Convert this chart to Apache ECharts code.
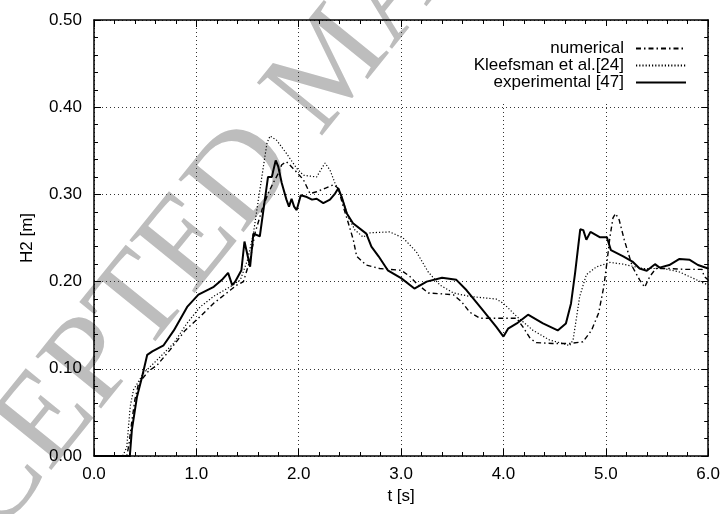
<!DOCTYPE html>
<html>
<head>
<meta charset="utf-8">
<script src="https://cdn.jsdelivr.net/npm/echarts@6/dist/echarts.min.js"></script>
<style>
  html, body { margin: 0; padding: 0; background: #fff; }
  #chart { width: 723px; height: 514px; }
</style>
</head>
<body>
<div id="chart"></div>
<script>
// tick labels
var xTicks = ['0.0', '1.0', '2.0', '3.0', '4.0', '5.0', '6.0'];
var yTicks = ['0.00', '0.10', '0.20', '0.30', '0.40', '0.50'];

// experimental [47]
var expT = [0, 0.35, 0.37, 0.42, 0.47, 0.52, 0.57, 0.68, 0.78, 0.91, 1.02, 1.17, 1.25, 1.31, 1.35, 1.38, 1.44, 1.47, 1.525, 1.557, 1.62, 1.655, 1.70, 1.737, 1.775, 1.80, 1.834, 1.88, 1.905, 1.93, 1.955, 1.98, 2.02, 2.08, 2.13, 2.175, 2.24, 2.305, 2.355, 2.387, 2.42, 2.47, 2.53, 2.66, 2.71, 2.78, 2.87, 3.0, 3.13, 3.25, 3.4, 3.54, 3.64, 3.80, 3.93, 4.0, 4.045, 4.13, 4.24, 4.386, 4.53, 4.61, 4.66, 4.70, 4.73, 4.75, 4.78, 4.81, 4.85, 4.94, 5.01, 5.05, 5.17, 5.26, 5.33, 5.40, 5.48, 5.525, 5.62, 5.72, 5.82, 5.90, 6.0];
var expH = [0, 0, 0.03, 0.068, 0.091, 0.116, 0.12, 0.127, 0.144, 0.171, 0.185, 0.194, 0.202, 0.21, 0.196, 0.2, 0.213, 0.246, 0.217, 0.255, 0.252, 0.282, 0.32, 0.32, 0.339, 0.332, 0.313, 0.294, 0.286, 0.295, 0.286, 0.282, 0.299, 0.297, 0.294, 0.295, 0.29, 0.294, 0.301, 0.307, 0.297, 0.278, 0.267, 0.255, 0.24, 0.229, 0.213, 0.204, 0.192, 0.2, 0.2045, 0.202, 0.19, 0.167, 0.148, 0.137, 0.146, 0.152, 0.162, 0.152, 0.144, 0.152, 0.175, 0.21, 0.24, 0.26, 0.259, 0.248, 0.257, 0.251, 0.251, 0.236, 0.229, 0.223, 0.215, 0.2125, 0.22, 0.216, 0.219, 0.226, 0.225, 0.219, 0.215];

// numerical
var numT = [0, 0.32, 0.34, 0.37, 0.40, 0.435, 0.53, 0.615, 0.745, 0.89, 1.02, 1.167, 1.33, 1.395, 1.46, 1.525, 1.574, 1.64, 1.70, 1.75, 1.80, 1.834, 1.88, 1.96, 2.045, 2.11, 2.175, 2.257, 2.34, 2.386, 2.435, 2.485, 2.533, 2.566, 2.66, 2.79, 3.0, 3.085, 3.15, 3.265, 3.51, 3.59, 3.67, 3.77, 3.93, 4.13, 4.19, 4.26, 4.32, 4.48, 4.645, 4.776, 4.86, 4.93, 4.98, 5.01, 5.04, 5.07, 5.095, 5.13, 5.18, 5.26, 5.33, 5.38, 5.43, 5.49, 5.62, 5.78, 5.94, 5.96, 6.0];
var numH = [0, 0, 0.012, 0.04, 0.065, 0.083, 0.097, 0.104, 0.122, 0.144, 0.158, 0.175, 0.19, 0.196, 0.2, 0.225, 0.256, 0.282, 0.301, 0.313, 0.324, 0.334, 0.3375, 0.328, 0.317, 0.301, 0.303, 0.307, 0.311, 0.307, 0.286, 0.267, 0.248, 0.229, 0.219, 0.215, 0.213, 0.206, 0.198, 0.187, 0.185, 0.177, 0.165, 0.158, 0.158, 0.158, 0.148, 0.135, 0.13, 0.129, 0.129, 0.131, 0.144, 0.164, 0.194, 0.221, 0.251, 0.273, 0.278, 0.271, 0.248, 0.217, 0.202, 0.1935, 0.206, 0.215, 0.215, 0.214, 0.214, 0.206, 0.202];

// Kleefsman et al.[24]
var kleT = [0, 0.28, 0.32, 0.354, 0.386, 0.484, 0.615, 0.777, 0.907, 1.037, 1.167, 1.33, 1.43, 1.50, 1.557, 1.606, 1.655, 1.69, 1.72, 1.785, 1.88, 1.98, 2.045, 2.175, 2.215, 2.257, 2.305, 2.354, 2.42, 2.484, 2.55, 2.63, 2.70, 2.89, 3.02, 3.15, 3.265, 3.38, 3.51, 3.67, 3.93, 4.0, 4.13, 4.29, 4.45, 4.58, 4.645, 4.68, 4.71, 4.745, 4.81, 4.91, 5.04, 5.17, 5.36, 5.56, 5.72, 5.85, 6.0];
var kleH = [0, 0, 0.01, 0.057, 0.076, 0.095, 0.11, 0.129, 0.152, 0.171, 0.183, 0.194, 0.202, 0.225, 0.255, 0.294, 0.332, 0.359, 0.367, 0.362, 0.347, 0.33, 0.322, 0.32, 0.328, 0.336, 0.328, 0.313, 0.297, 0.274, 0.259, 0.251, 0.256, 0.257, 0.25, 0.234, 0.211, 0.196, 0.187, 0.183, 0.18, 0.175, 0.16, 0.144, 0.133, 0.129, 0.1265, 0.133, 0.156, 0.183, 0.208, 0.217, 0.222, 0.22, 0.215, 0.215, 0.211, 0.204, 0.196];

function pairs(t, h) {
  var out = [];
  for (var i = 0; i < t.length; i++) out.push([t[i], h[i]]);
  return out;
}

var font = 'Liberation Sans, Arial, Helvetica, sans-serif';
var fs = 17;
var tickStyle = { show: true, inside: true, length: 7, lineStyle: { color: '#000', width: 1 } };
var minorStyle = { show: true, splitNumber: 5, length: 4, lineStyle: { color: '#000', width: 1 } };
var gridLine = { show: true, lineStyle: { color: '#333', width: 1, type: [1, 3] } };
var axisLine = { show: true, onZero: false, lineStyle: { color: '#000', width: 1.5 } };

var chart = echarts.init(document.getElementById('chart'));
chart.setOption({
  animation: false,
  backgroundColor: '#fff',
  // watermark of the source page
  graphic: [{
    type: 'text',
    z: -10,
    x: 335, y: 66,
    rotation: 51 * Math.PI / 180,
    style: {
      text: 'ACCEPTED MANUSCRIPT',
      fontSize: 128,
      fontFamily: 'Liberation Serif, Times New Roman, serif',
      fill: '#bdbdbd',
      align: 'center',
      verticalAlign: 'middle'
    }
  }],
  grid: { left: 94, right: 14, top: 20, bottom: 58 },
  legend: {
    orient: 'vertical',
    align: 'right',
    right: 20,
    top: 26,
    padding: [14, 16, 10, 30],
    backgroundColor: '#fff',
    itemWidth: 50,
    itemHeight: 10,
    itemGap: 0,
    itemStyle: { opacity: 0 },
    textStyle: { fontFamily: font, fontSize: fs, color: '#000', lineHeight: 16.5, padding: [0, 7, 0, 0] },
    data: ['numerical', 'Kleefsman et al.[24]', 'experimental [47]']
  },
  xAxis: [{
    type: 'value', min: 0, max: 6, interval: 1,
    name: 't [s]', nameLocation: 'middle', nameGap: 32,
    nameTextStyle: { fontFamily: font, fontSize: fs, color: '#000' },
    axisLine: axisLine,
    axisTick: tickStyle, minorTick: minorStyle,
    splitLine: gridLine,
    axisLabel: {
      fontFamily: font, fontSize: fs, color: '#000', margin: 10,
      formatter: function (v) { return xTicks[Math.round(v)]; }
    }
  }, {
    type: 'value', min: 0, max: 6, interval: 1, position: 'top',
    axisLine: axisLine, axisTick: tickStyle, minorTick: minorStyle,
    splitLine: { show: false }, axisLabel: { show: false }
  }],
  yAxis: [{
    type: 'value', min: 0, max: 0.5, interval: 0.1,
    name: 'H2 [m]', nameLocation: 'middle', nameGap: 58,
    nameTextStyle: { fontFamily: font, fontSize: fs, color: '#000' },
    axisLine: axisLine,
    axisTick: tickStyle, minorTick: minorStyle,
    splitLine: gridLine,
    axisLabel: {
      fontFamily: font, fontSize: fs, color: '#000', margin: 12,
      formatter: function (v) { return yTicks[Math.round(v * 10)]; }
    }
  }, {
    type: 'value', min: 0, max: 0.5, interval: 0.1, position: 'right',
    axisLine: axisLine, axisTick: tickStyle, minorTick: minorStyle,
    splitLine: { show: false }, axisLabel: { show: false }
  }],
  series: [{
    name: 'numerical', type: 'line', symbol: 'none', z: 3,
    lineStyle: { color: '#000', width: 1.4, type: [5, 3, 1.5, 3] },
    itemStyle: { color: '#000' },
    data: pairs(numT, numH)
  }, {
    name: 'Kleefsman et al.[24]', type: 'line', symbol: 'none', z: 3,
    lineStyle: { color: '#000', width: 1.2, type: [1.2, 2] },
    itemStyle: { color: '#000' },
    data: pairs(kleT, kleH)
  }, {
    name: 'experimental [47]', type: 'line', symbol: 'none', z: 4,
    lineStyle: { color: '#000', width: 2 },
    itemStyle: { color: '#000' },
    data: pairs(expT, expH)
  }]
});
</script>
</body>
</html>
